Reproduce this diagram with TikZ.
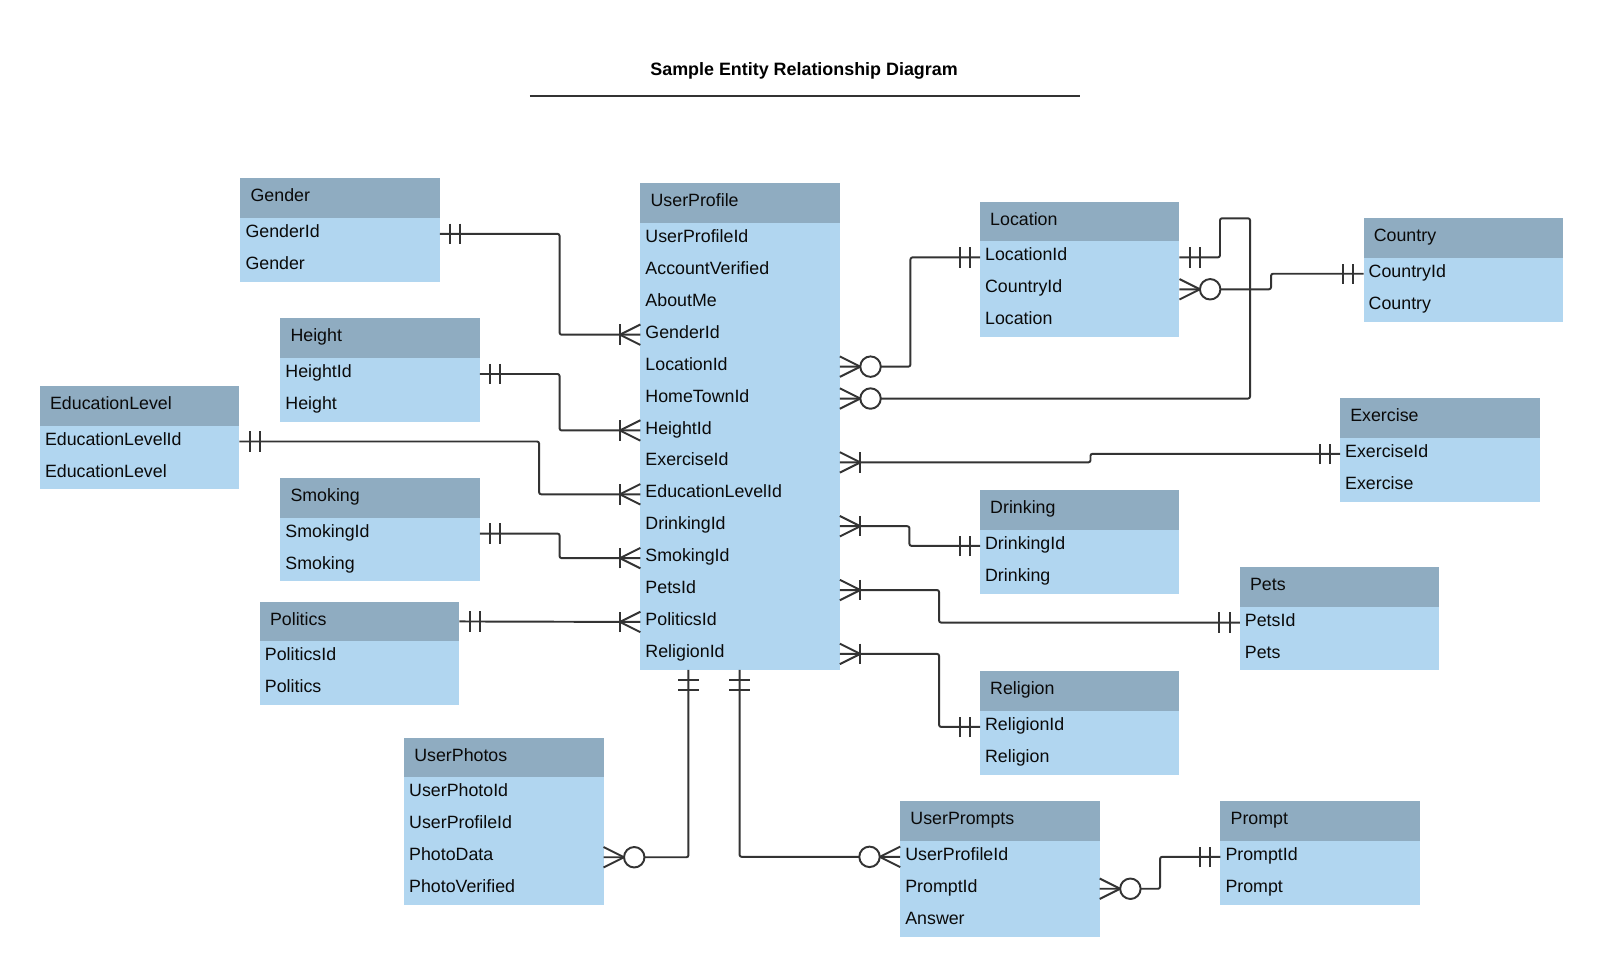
\documentclass[tikz,border=0pt]{standalone}
\usepackage{fontspec}
\setmainfont{Liberation Sans}
\usetikzlibrary{calc}
\definecolor{hdrcol}{RGB}{143,172,193}
\definecolor{bodycol}{RGB}{177,214,240}
\definecolor{linecol}{RGB}{51,51,51}
\definecolor{txtcol}{RGB}{10,10,10}
\tikzset{
  hdr/.style={fill=hdrcol, text=txtcol, anchor=north west, minimum width=195pt, minimum height=39pt,
    text width=175pt, align=left, inner xsep=10pt, inner ysep=0pt, outer sep=0pt,
    text height=12.5pt, text depth=5pt, font=\fontsize{17.4}{20}\selectfont},
  rowbox/.style={text=txtcol, anchor=north west, minimum width=195pt, minimum height=31.2pt,
    text width=185pt, align=left, inner xsep=5pt, inner ysep=0pt, outer sep=0pt,
    text height=12.5pt, text depth=5.5pt, font=\fontsize{17.4}{20}\selectfont},
  conn/.style={draw=linecol, line width=1.9pt, rounded corners=2pt, line join=round},
  mk/.style={draw=linecol, line width=1.9pt, line join=round},
}
% #1 name, #2 x, #3 y, #4 number of rows, #5 title, #6 rows
\newcommand\entity[6]{%
  \fill[bodycol] (#2,#3+39) rectangle ++(195,31.2*#4);
  \node[hdr] (#1) at (#2,#3) {#5};
  \foreach \r [count=\i from 0] in {#6} {
    \node[rowbox] (#1-\i) at (#2,#3+39+31.2*\i) {\r};
  }
}
% markers: #1 point, #2 ux, #3 uy
\newcommand\mkbars[3]{%
  \draw[mk] ($(#1)+({10*(#2)+10*(#3)},{10*(#3)-10*(#2)})$) -- ($(#1)+({10*(#2)-10*(#3)},{10*(#3)+10*(#2)})$);
  \draw[mk] ($(#1)+({20*(#2)+10*(#3)},{20*(#3)-10*(#2)})$) -- ($(#1)+({20*(#2)-10*(#3)},{20*(#3)+10*(#2)})$);
}
\newcommand\mkfan[3]{%
  \draw[mk] ($(#1)+({10*(#3)},{-10*(#2)})$) -- ($(#1)+({20*(#2)},{20*(#3)})$) -- ($(#1)+({-10*(#3)},{10*(#2)})$);
}
\newcommand\mkonemany[3]{%
  \mkfan{#1}{#2}{#3}%
  \draw[mk] ($(#1)+({20*(#2)+10*(#3)},{20*(#3)-10*(#2)})$) -- ($(#1)+({20*(#2)-10*(#3)},{20*(#3)+10*(#2)})$);
}
\newcommand\mkzeromany[3]{%
  \mkfan{#1}{#2}{#3}%
  \draw[mk, fill=white] ($(#1)+({30*(#2)},{30*(#3)})$) circle[radius=10pt];
}
\begin{document}
\begin{tikzpicture}[x=1pt,y=-1pt]
\useasboundingbox (0,0) rectangle (1568,955);
\fill[white] (0,0) rectangle (1568,955);

\node[font=\bfseries\fontsize{17.5}{20}\selectfont, text height=12.5pt, text depth=3.5pt, inner sep=0pt] (title) at (786,69.5) {Sample Entity Relationship Diagram};
\draw[draw=linecol, line width=2pt] (518,94) -- (1056,94);

\entity{up}{626}{179}{14}{UserProfile}{UserProfileId,AccountVerified,AboutMe,GenderId,LocationId,HomeTownId,HeightId,ExerciseId,EducationLevelId,DrinkingId,SmokingId,PetsId,PoliticsId,ReligionId}
\entity{gender}{235}{174}{2}{Gender}{GenderId,Gender}
\entity{height}{274}{311}{2}{Height}{HeightId,Height}
\entity{edu}{39}{377}{2}{EducationLevel}{EducationLevelId,EducationLevel}
\entity{smoking}{274}{467}{2}{Smoking}{SmokingId,Smoking}
\entity{politics}{254}{588}{2}{Politics}{PoliticsId,Politics}
\entity{location}{958}{197}{3}{Location}{LocationId,CountryId,Location}
\entity{country}{1333}{213}{2}{Country}{CountryId,Country}
\entity{exercise}{1310}{389}{2}{Exercise}{ExerciseId,Exercise}
\entity{drinking}{958}{479}{2}{Drinking}{DrinkingId,Drinking}
\entity{pets}{1212}{554}{2}{Pets}{PetsId,Pets}
\entity{religion}{958}{656}{2}{Religion}{ReligionId,Religion}
\entity{userphotos}{395}{721}{4}{UserPhotos}{UserPhotoId,UserProfileId,PhotoData,PhotoVerified}
\entity{userprompts}{880}{783}{3}{UserPrompts}{UserProfileId,PromptId,Answer}
\entity{prompt}{1193}{783}{2}{Prompt}{PromptId,Prompt}

\coordinate (upb1) at ($(up-13.south west)+(47,0)$);
\coordinate (upb2) at ($(up-13.south west)+(97,0)$);

% connectors
\draw[conn] (gender-0.east) -- ++(117,0) |- (up-3.west);
\draw[conn] (height-0.east) -- ++(78,0) |- (up-6.west);
\draw[conn] (edu-0.east) -- ++(293,0) |- (up-8.west);
\draw[conn] (smoking-0.east) -- ++(78,0) |- (up-10.west);
\draw[conn] (politics.east) -- (up-12.west);
\draw[conn] (up-4.east) -- ++(69,0) |- (location-0.west);
\draw[conn] (up-5.east) -| (1222,213.4) -| ($(location-0.east)+(39.6,0)$) -- (location-0.east);
\draw[conn] (location-1.east) -- ++(89.5,0) |- (country-0.west);
\draw[conn] (up-7.east) -- ++(245,0) |- (exercise-0.west);
\draw[conn] (up-9.east) -- ++(68,0) |- (drinking-0.west);
\draw[conn] (up-11.east) -- ++(97,0) |- (pets-0.west);
\draw[conn] (up-13.east) -- ++(97,0) |- (religion-0.west);
\draw[conn] (upb1) |- (userphotos-2.east);
\draw[conn] (upb2) |- (userprompts-0.west);
\draw[conn] (userprompts-1.east) -- ++(59,0) |- (prompt-0.west);

% markers
\mkbars{gender-0.east}{1}{0}
\mkonemany{up-3.west}{-1}{0}
\mkbars{height-0.east}{1}{0}
\mkonemany{up-6.west}{-1}{0}
\mkbars{edu-0.east}{1}{0}
\mkonemany{up-8.west}{-1}{0}
\mkbars{smoking-0.east}{1}{0}
\mkonemany{up-10.west}{-1}{0}
\mkbars{politics.east}{1}{0}
\mkonemany{up-12.west}{-1}{0}
\mkzeromany{up-4.east}{1}{0}
\mkbars{location-0.west}{-1}{0}
\mkzeromany{up-5.east}{1}{0}
\mkbars{location-0.east}{1}{0}
\mkzeromany{location-1.east}{1}{0}
\mkbars{country-0.west}{-1}{0}
\mkonemany{up-7.east}{1}{0}
\mkbars{exercise-0.west}{-1}{0}
\mkonemany{up-9.east}{1}{0}
\mkbars{drinking-0.west}{-1}{0}
\mkonemany{up-11.east}{1}{0}
\mkbars{pets-0.west}{-1}{0}
\mkonemany{up-13.east}{1}{0}
\mkbars{religion-0.west}{-1}{0}
\mkbars{upb1}{0}{1}
\mkzeromany{userphotos-2.east}{1}{0}
\mkbars{upb2}{0}{1}
\mkzeromany{userprompts-0.west}{-1}{0}
\mkzeromany{userprompts-1.east}{1}{0}
\mkbars{prompt-0.west}{-1}{0}
\end{tikzpicture}
\end{document}
